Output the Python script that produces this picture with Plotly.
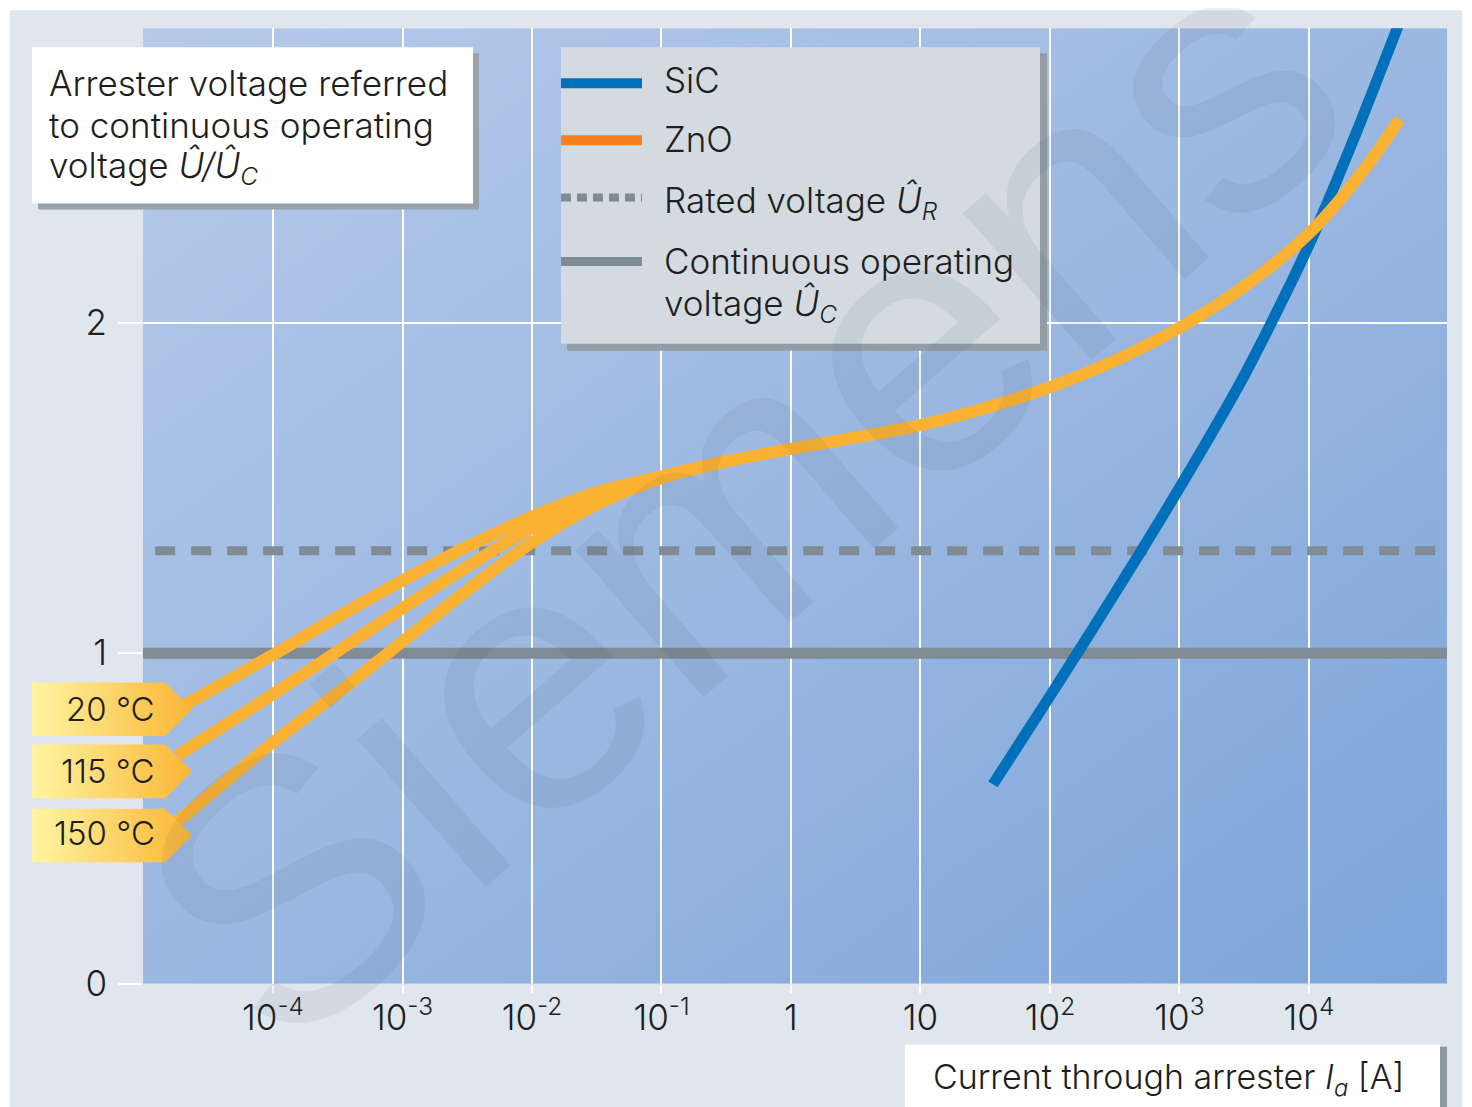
import base64
import plotly.graph_objects as go

# Page geometry: body margin of 8 px; the captured page is 1129 px tall and is scaled to 1107.
PAGE_W = 1472
OFF = 8
SY = 1107 / 1129          # vertical scale applied by the capture
W = PAGE_W - 2 * OFF      # 1456
H = 1129 - 2 * OFF        # 1113

# ---------------- data ----------------
# log10 of current through arrester [A]  ->  U/Uc
LOG_I_ZNO_20 = [-4.70, -4.0, -3.5, -3.0, -2.5, -2.0, -1.5, -1.0, -0.5, 0.0, 0.5,
                1.0, 1.5, 2.0, 2.5, 3.0, 3.5, 4.0, 4.4, 4.70]
U_ZNO_20 = [0.84, 0.995, 1.11, 1.22, 1.322, 1.413, 1.487, 1.535, 1.58, 1.618, 1.653,
            1.69, 1.742, 1.805, 1.885, 1.985, 2.11, 2.27, 2.45, 2.615]
LOG_I_ZNO_115 = [-4.74, -4.0, -3.5, -3.0, -2.5, -2.0, -1.5, -1.0, -0.5]
U_ZNO_115 = [0.69, 0.876, 1.006, 1.136, 1.262, 1.38, 1.47, 1.533, 1.58]
LOG_I_ZNO_150 = [-4.74, -4.0, -3.5, -3.0, -2.5, -2.0, -1.5, -1.0, -0.5]
U_ZNO_150 = [0.49, 0.73, 0.88, 1.035, 1.19, 1.335, 1.45, 1.53, 1.58]
LOG_I_SIC = [1.56, 2.0, 2.5, 3.0, 3.5, 4.0, 4.35, 4.72]
U_SIC = [0.603, 0.87, 1.18, 1.50, 1.84, 2.235, 2.56, 2.93]
RATED_U = 1.31
CONT_U = 1.0
X_TICK_EXP = [-4, -3, -2, -1, 0, 1, 2, 3, 4]
X_TICK_TEXT = ["10<sup>-4</sup>", "10<sup>-3</sup>", "10<sup>-2</sup>", "10<sup>-1</sup>", "1", "10",
               "10<sup>2</sup>", "10<sup>3</sup>", "10<sup>4</sup>"]
Y_TICKS = [0, 1, 2]
TEMP_LABELS = ["20 °C", "115 °C", "150 °C"]
LEGEND_LABELS = ["SiC", "ZnO", "Rated voltage <i>Û</i><sub><i>R</i></sub>",
                 "Continuous operating", "voltage <i>Û</i><sub><i>C</i></sub>"]
YTITLE_LINES = ["Arrester voltage referred", "to continuous operating",
                "voltage <i>Û/Û</i><sub><i>C</i></sub>"]
XTITLE = "Current through arrester <i>I</i><sub><i>a</i></sub> [A]"

# ---------------- style ----------------
FONT = "Inter"
TXT = "#1e1e1e"
ORANGE = "#fbb232"
ORANGE_LEG = "#f5821f"
BLUE = "#0070bb"
GREY = "#7f8b95"
FRAME = "#dfe6ed"


def px(x):
    """target picture x -> paper fraction"""
    return (x - OFF) / W


def py(y):
    """target picture y -> paper fraction"""
    return 1 - (y / SY - OFF) / H


def svg_uri(svg):
    return "data:image/svg+xml;base64," + base64.b64encode(svg.encode()).decode()


XR = [-5.004, 5.066]
YR = [0, 2.891]
XDOM = [px(143), px(1447)]
YDOM = [py(982), py(28)]

fig = go.Figure()


def lin(vals):
    return [10 ** v for v in vals]


# reference lines
fig.add_trace(go.Scatter(x=[1e-6, 1e6], y=[CONT_U, CONT_U], mode="lines",
                         line=dict(color=GREY, width=11), hoverinfo="skip"))
fig.add_trace(go.Scatter(x=[10 ** -4.91, 1e6], y=[RATED_U, RATED_U], mode="lines",
                         line=dict(color=GREY, width=9, dash="20px,16px"), hoverinfo="skip"))
# SiC
fig.add_trace(go.Scatter(x=lin(LOG_I_SIC), y=U_SIC, mode="lines",
                         line=dict(color=BLUE, width=11, shape="spline", smoothing=0.8)))
# ZnO
for lx, u in [(LOG_I_ZNO_150, U_ZNO_150), (LOG_I_ZNO_115, U_ZNO_115), (LOG_I_ZNO_20, U_ZNO_20)]:
    fig.add_trace(go.Scatter(x=lin(lx), y=u, mode="lines",
                             line=dict(color=ORANGE, width=12, shape="spline", smoothing=1.0)))

# ---------------- background images ----------------
bg_svg = ('<svg xmlns="http://www.w3.org/2000/svg" width="200" height="200" viewBox="0 0 200 200" '
          'preserveAspectRatio="none"><defs><linearGradient id="g" x1="0" y1="0" x2="1" y2="1">'
          '<stop offset="0" stop-color="#b6c9ea"/><stop offset="0.5" stop-color="#9bb8e1"/>'
          '<stop offset="1" stop-color="#7da5da"/></linearGradient></defs>'
          '<rect width="200" height="200" fill="url(#g)"/></svg>')
tag_svg = ('<svg xmlns="http://www.w3.org/2000/svg" width="160" height="54" viewBox="0 0 160 54" '
           'preserveAspectRatio="none"><defs><linearGradient id="t" x1="0" y1="0" x2="1" y2="0">'
           '<stop offset="0" stop-color="#fff5a2"/><stop offset="1" stop-color="#fbb535"/>'
           '</linearGradient></defs><polygon points="0,0 133,0 160,27 133,54 0,54" fill="url(#t)"/></svg>')

images = [dict(source=svg_uri(bg_svg), xref="paper", yref="paper", x=XDOM[0], y=YDOM[1],
               sizex=XDOM[1] - XDOM[0], sizey=YDOM[1] - YDOM[0], xanchor="left", yanchor="top",
               sizing="stretch", layer="below")]
TAG_TOPS = [681, 743, 807]
for top in TAG_TOPS:
    images.append(dict(source=svg_uri(tag_svg), xref="paper", yref="paper", x=px(32), y=py(top),
                       sizex=160 / W, sizey=py(top) - py(top + 54), xanchor="left", yanchor="top",
                       sizing="stretch", layer="above"))

# ---------------- shapes ----------------
shapes = []
BOTTOM = 1130


def rect(x0, y0, x1, y1, color, layer="above"):
    shapes.append(dict(type="rect", xref="paper", yref="paper", x0=px(x0), x1=px(x1),
                       y0=py(y1), y1=py(y0), fillcolor=color, line=dict(width=0), layer=layer))


def hline(x0, x1, y, color, width, dash="solid"):
    shapes.append(dict(type="line", xref="paper", yref="paper", x0=px(x0), x1=px(x1),
                       y0=py(y), y1=py(y), line=dict(color=color, width=width, dash=dash),
                       layer="above"))


# white margins around the grey frame
rect(0, 0, 10, BOTTOM, "white", "below")
rect(0, 0, PAGE_W, 10, "white", "below")
rect(1462, 0, PAGE_W, BOTTOM, "white", "below")

# y-title box
rect(38, 53, 479, 209, "#98a2ab")
rect(32, 47, 473, 203, "white")
# legend box
rect(567, 53, 1047, 350, "#939da6")
rect(561, 47, 1040, 343, "#d3dbe1")
# x-title box
rect(1440, 1045, 1447, BOTTOM, "#8e98a1")
rect(905, 1043, 1440, BOTTOM, "white")

# legend samples
hline(561, 642, 83, BLUE, 10)
hline(561, 642, 140, ORANGE_LEG, 10)
hline(561, 642, 197, GREY, 8, "10px,6px")
hline(561, 642, 261, GREY, 9)

# ---------------- annotations ----------------
annotations = []


def text(x, y, s, size=35, xanchor="left", color=TXT):
    annotations.append(dict(x=px(x), y=py(y), xref="paper", yref="paper", text=s, showarrow=False,
                            xanchor=xanchor, yanchor="middle",
                            align=xanchor if xanchor != "center" else "center",
                            font=dict(family=FONT, size=size, color=color, weight=300)))


for line, yy in zip(YTITLE_LINES, [83, 125, 167]):
    text(47, yy, line)
for lab, yy in zip(LEGEND_LABELS, [80, 139, 202, 260, 305]):
    text(662, yy, lab)
text(1168, 1077, XTITLE, size=34, xanchor="center")
for lab, yy in zip(TEMP_LABELS, [708, 770, 832]):
    text(157, yy, lab, size=33, xanchor="right")

# watermark
annotations.append(dict(x=px(740), y=py(495), xref="paper", yref="paper", text="Siemens",
                        showarrow=False, textangle=-41,
                        font=dict(family="Liberation Sans", size=370, color="rgba(55,65,85,0.075)")))

fig.update_layout(
    width=W, height=H,
    margin=dict(l=0, r=0, t=0, b=0),
    paper_bgcolor=FRAME,
    plot_bgcolor="rgba(0,0,0,0)",
    showlegend=False,
    font=dict(family=FONT, color=TXT),
    xaxis=dict(type="log", range=XR, domain=XDOM, tickvals=lin(X_TICK_EXP), ticktext=X_TICK_TEXT,
               showgrid=True, gridcolor="white", gridwidth=2, zeroline=False, showline=False,
               ticks="outside", ticklen=8, tickwidth=2, tickcolor="white",
               tickfont=dict(family=FONT, size=35, color=TXT, weight=300), ticklabelstandoff=-5),
    yaxis=dict(range=YR, domain=YDOM, tickvals=Y_TICKS, ticktext=[str(v) for v in Y_TICKS],
               showgrid=True, gridcolor="white", gridwidth=2, zeroline=False, showline=False,
               ticks="outside", ticklen=24, tickwidth=2, tickcolor="white",
               tickfont=dict(family=FONT, size=35, color=TXT, weight=300), ticklabelstandoff=4),
    images=images,
    shapes=shapes,
    annotations=annotations,
)

fig.write_html("out.html")
